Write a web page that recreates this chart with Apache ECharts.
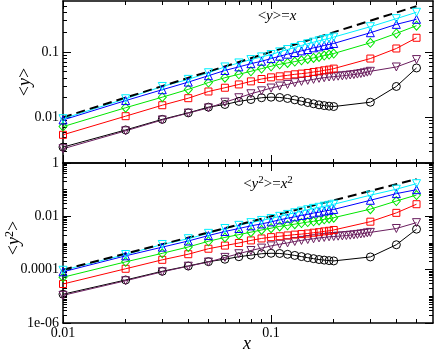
<!DOCTYPE html>
<html>
<head>
<meta charset="utf-8">
<script src="https://cdn.jsdelivr.net/npm/echarts@6/dist/echarts.min.js"></script>
<style>
html, body { margin: 0; padding: 0; background: #fff; }
#main { width: 436px; height: 354px; }
</style>
</head>
<body>
<div id="main"></div>
<script>
// x of the runs; the purple run has extra points between 0.2 and 0.3
var xValues = [0.01, 0.02, 0.03, 0.04, 0.05, 0.06, 0.07, 0.08, 0.09, 0.10,
  0.11, 0.12, 0.13, 0.14, 0.15, 0.16, 0.17, 0.18, 0.19, 0.20, 0.3, 0.4, 0.5];
var xValuesLong = [0.01, 0.02, 0.03, 0.04, 0.05, 0.06, 0.07, 0.08, 0.09, 0.10,
  0.11, 0.12, 0.13, 0.14, 0.15, 0.16, 0.17, 0.18, 0.19, 0.20,
  0.21, 0.22, 0.23, 0.24, 0.25, 0.26, 0.27, 0.28, 0.29, 0.30, 0.4, 0.5];

// top panel: <y>
var meanCyan = [0.0095, 0.0192, 0.0296, 0.038, 0.048, 0.0589, 0.0678, 0.0763, 0.0839, 0.0911,
  0.1001, 0.1087, 0.1168, 0.1253, 0.133, 0.141, 0.1478, 0.155, 0.1606, 0.1684, 0.2427, 0.3222, 0.4034];
var meanBlue = [0.0091, 0.018, 0.0264, 0.0345, 0.0432, 0.052, 0.059, 0.066, 0.072, 0.079,
  0.0859, 0.0922, 0.0978, 0.1037, 0.1087, 0.1154, 0.1195, 0.1253, 0.1298, 0.1345, 0.1963, 0.2636, 0.3148];
var meanGreen = [0.0072, 0.014, 0.0203, 0.0267, 0.034, 0.0403, 0.0454, 0.0505, 0.0555, 0.0603,
  0.0647, 0.0678, 0.0711, 0.0745, 0.0781, 0.0809, 0.0839, 0.0879, 0.0911, 0.0944, 0.1377, 0.1917, 0.2515];
var meanRed = [0.0054, 0.0104, 0.0153, 0.0196, 0.0248, 0.0283, 0.0318, 0.0354, 0.0385, 0.0408,
  0.0423, 0.0438, 0.0454, 0.0465, 0.0476, 0.0493, 0.0505, 0.0523, 0.0536, 0.0555, 0.0791, 0.1127, 0.1644];
var meanBlack = [0.0035, 0.0064, 0.0093, 0.0117, 0.0143, 0.0157, 0.0175, 0.0187, 0.0199, 0.0203,
  0.0201, 0.0194, 0.0185, 0.0176, 0.0168, 0.0161, 0.0155, 0.0151, 0.0148, 0.0146, 0.017, 0.0296, 0.0568];
var meanPurple = [0.0033, 0.0062, 0.0091, 0.0116, 0.0139, 0.017, 0.0199, 0.0229, 0.0254, 0.028,
  0.030, 0.0318, 0.0338, 0.0354, 0.0367, 0.038, 0.0394, 0.0403, 0.0413, 0.0418,
  0.0425, 0.043, 0.0437, 0.0443, 0.045, 0.0458, 0.0467, 0.0478, 0.049, 0.0505, 0.0588, 0.0763];

// bottom panel: <y^2>
var sqCyan = [0.000095, 0.00037, 0.00088, 0.00145, 0.0023, 0.0035, 0.0046, 0.0058, 0.007, 0.0083,
  0.01, 0.0118, 0.0136, 0.0157, 0.0177, 0.0199, 0.0218, 0.024, 0.0258, 0.0284, 0.062, 0.104, 0.168];
var sqBlue = [0.000083, 0.00033, 0.0007, 0.00119, 0.0019, 0.0027, 0.0035, 0.0044, 0.0052, 0.0062,
  0.0074, 0.0085, 0.0096, 0.0108, 0.0118, 0.0133, 0.0143, 0.0157, 0.0168, 0.0181, 0.04, 0.071, 0.1];
var sqGreen = [0.000052, 0.000196, 0.00041, 0.00071, 0.00116, 0.00162, 0.00206, 0.00255, 0.00308, 0.0036,
  0.0042, 0.0046, 0.0051, 0.0056, 0.0061, 0.0065, 0.007, 0.0077, 0.0083, 0.0089, 0.0186, 0.0375, 0.063];
var sqRed = [0.000029, 0.000108, 0.000234, 0.00038, 0.00061, 0.0008, 0.001, 0.00125, 0.00148, 0.00166,
  0.00179, 0.00192, 0.00206, 0.00216, 0.00227, 0.00243, 0.00255, 0.00273, 0.00287, 0.00308, 0.0063, 0.0135, 0.0285];
var sqBlack = [0.000012, 0.000041, 0.000087, 0.000137, 0.0002, 0.000246, 0.000306, 0.00035, 0.000396, 0.000412,
  0.000404, 0.000376, 0.000342, 0.00031, 0.000282, 0.000259, 0.00024, 0.000228, 0.000219, 0.000213, 0.0003, 0.00086, 0.0033];
var sqPurple = [0.0000109, 0.0000384, 0.000083, 0.000135, 0.000193, 0.000289, 0.000396, 0.000524, 0.000645, 0.00078,
  0.0009, 0.00101, 0.00114, 0.00125, 0.00135, 0.00144, 0.00155, 0.00162, 0.00171, 0.00175,
  0.0018, 0.00185, 0.0019, 0.00196, 0.00203, 0.0021, 0.00218, 0.00228, 0.0024, 0.0025, 0.0035, 0.0058];

// reference lines <y>=x and <y^2>=x^2
var refX = [0.01, 0.5];
var refMean = [0.01, 0.5];
var refSq = [0.0001, 0.25];

// tick labels
var xTicks = [0.01, 0.1];
var xTickLabels = ['0.01', '0.1'];
var meanTicks = [0.01, 0.1];
var meanTickLabels = ['0.01', '0.1'];
var sqTicks = [1e-6, 1e-4, 0.01, 1];
var sqTickLabels = ['1e-06', '0.0001', '0.01', '1'];

var ink = '#000';
var serif = '"Liberation Serif", "DejaVu Serif", serif';

function minorTicks(lo, hi, from, to) {
  var out = [];
  for (var d = lo; d < hi; d++) {
    for (var k = 2; k <= 9; k++) {
      var v = +(k * Math.pow(10, d)).toPrecision(3);
      if (v > from && v < to) out.push(v);
    }
  }
  return out;
}

var xMinor = minorTicks(-2, 0, 0.01, 0.6);
var meanMinor = minorTicks(-3, 0, 0.002, 0.6);
var sqMinor = minorTicks(-6, 0, 1e-6, 1).concat([1e-5, 1e-3, 0.1]);

function labeller(ticks, labels) {
  return function (v) {
    for (var i = 0; i < ticks.length; i++) {
      if (Math.abs(Math.log10(v) - Math.log10(ticks[i])) < 1e-6) return labels[i];
    }
    return '';
  };
}

function logAxis(grid, pos, min, max, ticks, len, labels, margin) {
  return {
    type: 'log', gridIndex: grid, position: pos, min: min, max: max,
    axisLine: { show: len > 5, onZero: false, lineStyle: { color: ink, width: 1.5 } },
    axisTick: { inside: true, length: len, customValues: ticks, lineStyle: { color: ink, width: 1 } },
    axisLabel: labels ? {
      show: true, customValues: ticks, formatter: labeller(ticks, labels),
      fontFamily: serif, fontSize: 14, color: ink, margin: margin
    } : { show: false },
    splitLine: { show: false }
  };
}

var xAxes = [];
var yAxes = [];
[0, 1].forEach(function (g) {
  var yMin = g === 0 ? 0.002 : 1e-6;
  var yMax = g === 0 ? 0.6 : 1;
  var yT = g === 0 ? meanTicks : sqTicks;
  var yL = g === 0 ? meanTickLabels : sqTickLabels;
  var yM = g === 0 ? meanMinor : sqMinor;
  xAxes.push(logAxis(g, 'bottom', 0.01, 0.6, xTicks, 8, g === 1 ? xTickLabels : null, 3));
  xAxes.push(logAxis(g, 'bottom', 0.01, 0.6, xMinor, 4, null));
  xAxes.push(logAxis(g, 'top', 0.01, 0.6, xTicks, 8, null));
  xAxes.push(logAxis(g, 'top', 0.01, 0.6, xMinor, 4, null));
  yAxes.push(logAxis(g, 'left', yMin, yMax, yT, 8, yL, 4));
  yAxes.push(logAxis(g, 'left', yMin, yMax, yM, 4, null));
  yAxes.push(logAxis(g, 'right', yMin, yMax, yT, 8, null));
  yAxes.push(logAxis(g, 'right', yMin, yMax, yM, 4, null));
});

function run(grid, xs, ys, color, symbol, size, rotate) {
  return {
    type: 'line', xAxisIndex: grid * 4, yAxisIndex: grid * 4,
    data: xs.map(function (x, i) { return [x, ys[i]]; }),
    symbol: symbol, symbolSize: size, symbolRotate: rotate || 0,
    showAllSymbol: true,
    lineStyle: { color: color, width: 1 },
    itemStyle: { color: 'rgba(0,0,0,0)', borderColor: color, borderWidth: 1 },
    emphasis: { disabled: true }
  };
}

function refLine(grid, ys) {
  return {
    type: 'line', xAxisIndex: grid * 4, yAxisIndex: grid * 4,
    data: refX.map(function (x, i) { return [x, ys[i]]; }),
    symbol: 'none',
    lineStyle: { color: ink, width: 2, type: [9, 5] },
    emphasis: { disabled: true }
  };
}

var colBlack = '#000000', colPurple = '#6b1f5f', colRed = '#ff0000',
    colGreen = '#00e600', colBlue = '#0000ff', colCyan = '#00f0ff';

var series = [];
[[0, meanBlack, meanPurple, meanRed, meanGreen, meanBlue, meanCyan, refMean],
 [1, sqBlack, sqPurple, sqRed, sqGreen, sqBlue, sqCyan, refSq]].forEach(function (p) {
  var g = p[0];
  series.push(run(g, xValues, p[1], colBlack, 'circle', 8));
  series.push(run(g, xValuesLong, p[2], colPurple, 'triangle', 8, 180));
  series.push(run(g, xValues, p[3], colRed, 'rect', 7));
  series.push(run(g, xValues, p[4], colGreen, 'diamond', [8, 9]));
  series.push(run(g, xValues, p[5], colBlue, 'triangle', 8));
  series.push(run(g, xValues, p[6], colCyan, 'triangle', 8, 180));
  series.push(refLine(g, p[7]));
});

function txt(x, y, text, size, rotation, rich) {
  return {
    type: 'text', x: x, y: y, rotation: rotation || 0, z: 100,
    style: {
      text: text, fill: ink, font: size + 'px ' + serif,
      align: 'center', verticalAlign: 'middle',
      textAlign: 'center', textVerticalAlign: 'middle',
      rich: rich || {}
    }
  };
}

var richStyles = {
  i: { fontStyle: 'italic', fontFamily: serif, fontSize: 18, fill: ink },
  n: { fontFamily: serif, fontSize: 18, fill: ink },
  s: { fontFamily: serif, fontSize: 12, fill: ink, verticalAlign: 'top', padding: [0, 0, 8, 0] }
};
var richSmall = {
  i: { fontStyle: 'italic', fontFamily: serif, fontSize: 15, fill: ink },
  n: { fontFamily: serif, fontSize: 15, fill: ink },
  s: { fontFamily: serif, fontSize: 11, fill: ink, verticalAlign: 'top', padding: [0, 0, 7, 0] }
};

var chart = echarts.init(document.getElementById('main'), null, { renderer: 'canvas' });
chart.setOption({
  animation: false,
  backgroundColor: '#fff',
  grid: [
    { left: 63, right: 3, top: 1, height: 162 },
    { left: 63, right: 3, top: 163, height: 160 }
  ],
  xAxis: xAxes,
  yAxis: yAxes,
  series: series,
  graphic: [
    txt(25, 82, '{n|<}{i|y}{n|>}', 18, Math.PI / 2, richStyles),
    txt(14, 238, '{n|<}{i|y}{s|2}{n|>}', 18, Math.PI / 2, richStyles),
    txt(247, 344, '{i|x}', 18, 0, richStyles),
    txt(277, 16, '{n|<}{i|y}{n|>=}{i|x}', 15, 0, richSmall),
    txt(268, 184, '{n|<}{i|y}{s|2}{n|>=}{i|x}{s|2}', 15, 0, richSmall)
  ]
});
</script>
</body>
</html>
